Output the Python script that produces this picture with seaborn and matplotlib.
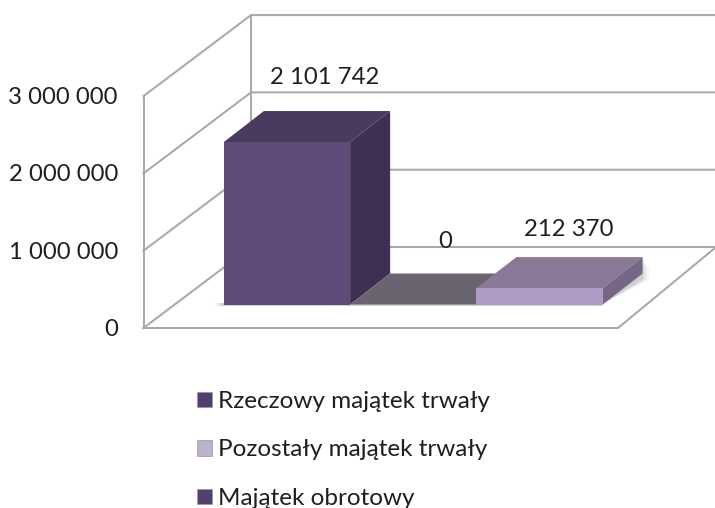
import matplotlib
matplotlib.use("Agg")
import matplotlib.pyplot as plt
from matplotlib.patches import Patch, Polygon
import pandas as pd
import seaborn as sns

# ---- data ----
categories = ["Rzeczowy majątek trwały", "Pozostały majątek trwały", "Majątek obrotowy"]
values = [2101742, 0, 212370]
value_labels = ["2 101 742", "0", "212 370"]
tick_values = [0, 1000000, 2000000, 3000000]
tick_labels = ["0", "1 000 000", "2 000 000", "3 000 000"]
# per-bar colours: front, top, side
front_colors = ["#5F4A79", "#6A6370", "#AE9CC6"]
top_colors = ["#4A3A5E", "#6A6370", "#8A7897"]
side_colors = ["#3F2F50", "#6A6370", "#756785"]
legend_colors = ["#54406F", "#BDB2CC", "#54406F"]

# ---- geometry ----
W, H = 715, 508
CX0, XSCALE = 287.0, 126.25     # px of first category, px per category
Y0, YSCALE = 304.5, 77.3 / 1e6  # px of value zero on bar plane, px per value
FLOOR_FRONT = 328.0
BACK_DX, BACK_DY = 107.5, 81.0
BAR_DX, BAR_DY = 40.0, 31.0
LEFT_X, RIGHT_X = 143.5, 618.0

sns.set_theme(style="white")
plt.rcParams["font.family"] = ["Lato", "DejaVu Sans"]

fig = plt.figure(figsize=(W / 100, H / 100), dpi=100)
ax = fig.add_axes([0, 0, 1, 1])


def px(x_px, y_px):
    return (x_px - CX0) / XSCALE, (Y0 - y_px) / YSCALE


def off(cat, value, dx=0.0, dy=0.0):
    """Data position of a (cat, value) point displaced in pixels."""
    return cat + dx / XSCALE, value + dy / YSCALE


df = pd.DataFrame({"kategoria": categories, "wartosc": values})
sns.barplot(data=df, x="kategoria", y="wartosc", hue="kategoria", order=categories,
            hue_order=categories, palette=front_colors, saturation=1, width=1,
            dodge=False, legend=False, ax=ax, linewidth=0)
for b in ax.patches:
    b.set_zorder(8)
ax.set_xlim(-CX0 / XSCALE, (W - CX0) / XSCALE)
ax.set_ylim((Y0 - H) / YSCALE, Y0 / YSCALE)

# frame and gridlines
GRID = dict(color="#A8A8A8", lw=1.45, solid_capstyle="projecting", zorder=1)
for v in tick_values:
    y = FLOOR_FRONT - v * YSCALE
    a, b, c = px(LEFT_X, y), px(LEFT_X + BACK_DX, y - BACK_DY), px(W, y - BACK_DY)
    ax.plot([a[0], b[0], c[0]], [a[1], b[1], c[1]], **GRID)
top = FLOOR_FRONT - tick_values[-1] * YSCALE
for x, y0, y1 in [(LEFT_X, FLOOR_FRONT, top),
                  (LEFT_X + BACK_DX, FLOOR_FRONT - BACK_DY, top - BACK_DY)]:
    a, b = px(x, y0), px(x, y1)
    ax.plot([a[0], b[0]], [a[1], b[1]], **GRID)
a, b, c = px(LEFT_X, FLOOR_FRONT), px(RIGHT_X, FLOOR_FRONT), px(W, FLOOR_FRONT - 80)
ax.plot([a[0], b[0], c[0]], [a[1], b[1], c[1]], **GRID)

# soft floor shadows
for grow, alpha in [(9, 0.06), (6, 0.10), (3, 0.14)]:
    s = [off(-0.5, 0, -grow, -1), off(2.48, 0, grow * 0.3, -1),
         off(2.48, 0, grow * 0.3, 2), off(-0.5, 0, -grow, 2)]
    ax.add_patch(Polygon(s, fc="#555555", ec="none", alpha=alpha, zorder=2))
    s = [off(2.48, 0, 0, -1), off(2.48, 0, BAR_DX + grow, BAR_DY - 6),
         off(2.48, 0, BAR_DX + grow, BAR_DY + 6), off(2.48, values[2], BAR_DX, BAR_DY)]
    ax.add_patch(Polygon(s, fc="#555555", ec="none", alpha=alpha, zorder=2))

# top and side faces extruded from the values
for i, v in enumerate(values):
    l, r = i - 0.5, i + 0.5
    ax.add_patch(Polygon([off(l, v), off(r, v), off(r, v, BAR_DX, BAR_DY), off(l, v, BAR_DX, BAR_DY)],
                         fc=top_colors[i], ec="none", zorder=4 + i))
    if v:
        ax.add_patch(Polygon([off(r, 0), off(r, v), off(r, v, BAR_DX, BAR_DY), off(r, 0, BAR_DX, BAR_DY)],
                             fc=side_colors[i], ec="none", zorder=4 + i))

# value labels
TEXT = "#1F1F1F"
FS = 17.2
label_pos = [(325, 78), (445, 242), (569, 230)]
for (x, y), t in zip(label_pos, value_labels):
    ax.text(*px(x, y), t, ha="center", va="center", fontsize=FS, color=TEXT, zorder=9)

# axis tick labels
for v, t in zip(tick_values, tick_labels):
    ax.text(*px(118, FLOOR_FRONT - v * YSCALE + 1.5), t, ha="right", va="center",
            fontsize=FS, color=TEXT, zorder=9)

handles = [Patch(fc=c, ec="#9A93A8", lw=0.5) for c in legend_colors]
leg = ax.legend(handles, categories, loc="upper left", bbox_to_anchor=(197 / W, 1 - 391 / H),
                frameon=False, fontsize=17.5, handlelength=0.62, handleheight=0.62,
                handletextpad=0.25, labelspacing=1.13, borderpad=0, borderaxespad=0,
                labelcolor=TEXT)

ax.axis("off")
fig.savefig("out.png", dpi=100, facecolor="white")
